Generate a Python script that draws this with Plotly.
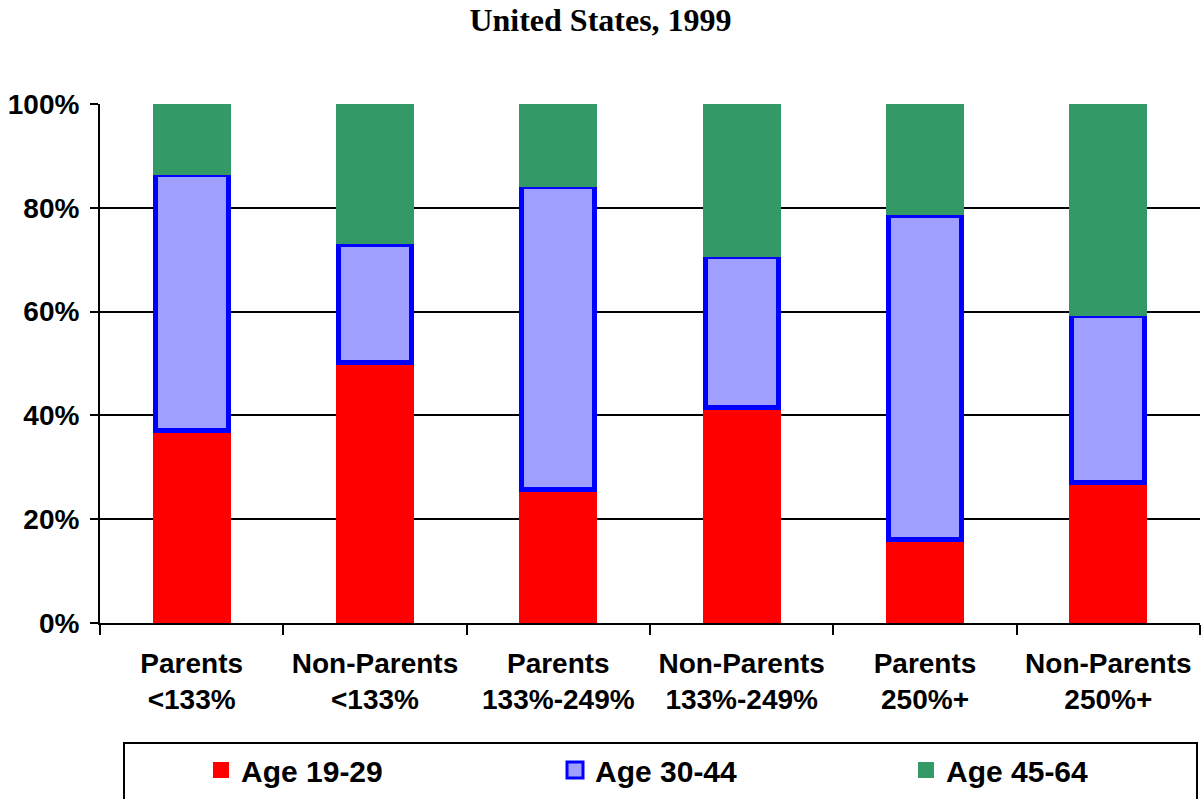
import plotly.graph_objects as go

# Share of each income/parent group by age band (percent)
categories = ["Parents <133%", "Non-Parents <133%", "Parents 133%-249%",
              "Non-Parents 133%-249%", "Parents 250%+", "Non-Parents 250%+"]
tick_labels = ["Parents<br><133%", "Non-Parents<br><133%", "Parents<br>133%-249%",
               "Non-Parents<br>133%-249%", "Parents<br>250%+", "Non-Parents<br>250%+"]
age_19_29 = [37.1, 50.2, 25.8, 41.6, 16.1, 27.0]
age_30_44 = [49.3, 22.8, 58.3, 29.0, 62.5, 32.2]
age_45_64 = [13.6, 27.0, 15.9, 29.4, 21.4, 40.8]
y_ticks = [0, 20, 40, 60, 80, 100]

RED = "#FF0000"
LILAC = "#9F9FFF"
BLUE = "#0000FF"
GREEN = "#339966"

sans = "Liberation Sans, Arial, sans-serif"
serif = "Liberation Serif, Times New Roman, serif"

PLOT_L, PLOT_R, PLOT_T, PLOT_B = 100, 1200, 104, 623
CAT_PX = (PLOT_R - PLOT_L) / len(categories)
BAR_W = 0.425
OUTLINE = 5


def px_x(px):
    return (px - PLOT_L) / (PLOT_R - PLOT_L)


def px_y(px):
    return (PLOT_B - px) / (PLOT_B - PLOT_T)


fig = go.Figure()
fig.add_bar(x=categories, y=age_19_29, name="Age 19-29", showlegend=False,
            width=BAR_W, marker=dict(color=RED, line=dict(width=0)))
# outlined band: narrowed so the stroke stays within the column edge
fig.add_bar(x=categories, y=age_30_44, name="Age 30-44", showlegend=False,
            width=BAR_W - OUTLINE / CAT_PX,
            marker=dict(color=LILAC, line=dict(color=BLUE, width=OUTLINE)))
fig.add_bar(x=categories, y=age_45_64, name="Age 45-64", showlegend=False,
            width=BAR_W, marker=dict(color=GREEN, line=dict(width=0)))

# one legend per age band, spread evenly across the legend box
legend_items = [("Age 19-29", RED, RED, 0, "legend", 201),
                ("Age 30-44", LILAC, BLUE, 3, "legend2", 555),
                ("Age 45-64", GREEN, GREEN, 0, "legend3", 906)]
legend_layout = {}
for name, fill, edge, lw, key, left in legend_items:
    fig.add_scatter(x=[None], y=[None], mode="markers", name=name, legend=key,
                    marker=dict(symbol="square", size=22, color=fill,
                                line=dict(color=edge, width=lw)))
    legend_layout[key] = dict(
        x=px_x(left), xanchor="left", y=px_y(744), yanchor="top",
        bgcolor="rgba(0,0,0,0)", borderwidth=0,
        font=dict(family=sans, size=30, color="black", weight="bold"))

fig.update_layout(
    width=1201, height=799,
    margin=dict(l=PLOT_L, r=1201 - PLOT_R, t=PLOT_T, b=799 - PLOT_B, autoexpand=False),
    barmode="stack",
    plot_bgcolor="white", paper_bgcolor="white",
    title=dict(text="<b>United States, 1999</b>", x=0.5, xref="container",
               xanchor="center", y=1 - 20 / 799, yref="container", yanchor="middle",
               font=dict(family=serif, size=32, color="black")),
    showlegend=True,
    shapes=[dict(type="rect", xref="paper", yref="paper",
                 x0=px_x(124), x1=px_x(1197), y0=px_y(743), y1=px_y(810),
                 line=dict(color="black", width=2))],
    **legend_layout,
)

fig.update_xaxes(
    type="category", tickmode="array", tickvals=categories, ticktext=tick_labels,
    tickson="boundaries", ticks="outside", ticklen=10, tickwidth=2, tickcolor="black",
    ticklabelstandoff=14,
    showline=True, linecolor="black", linewidth=2, showgrid=False,
    tickfont=dict(family=sans, size=28, color="black", weight="bold"),
)
fig.update_yaxes(
    range=[0, 100], tickmode="array", tickvals=y_ticks,
    ticktext=[f"{v}%" for v in y_ticks],
    ticks="outside", ticklen=8, tickwidth=2, tickcolor="black",
    ticklabelstandoff=5,
    showline=True, linecolor="black", linewidth=2,
    showgrid=True, gridcolor="black", gridwidth=2, zeroline=False,
    tickfont=dict(family=sans, size=28, color="black", weight="bold"),
)

fig.write_html("out.html")
